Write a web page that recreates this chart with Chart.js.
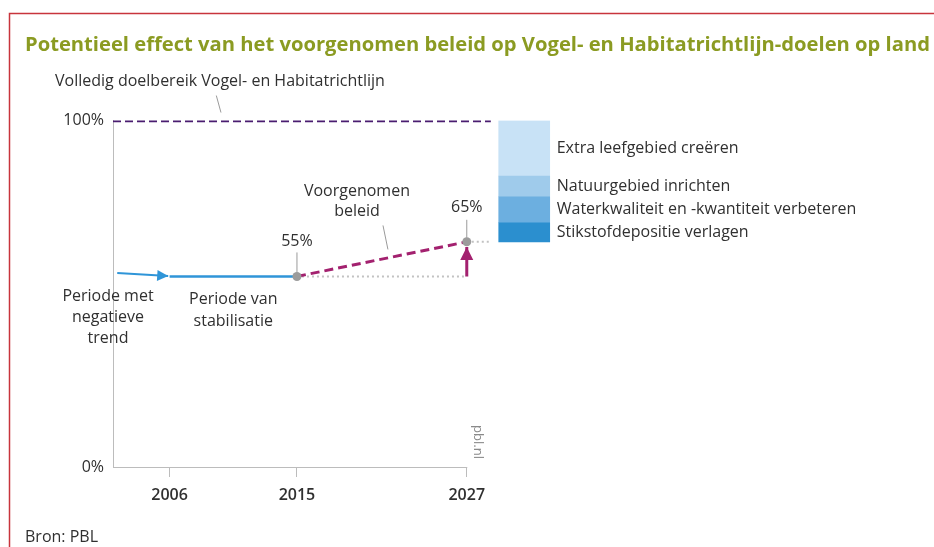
<!DOCTYPE html>
<html><head><meta charset="utf-8">
<script src="https://cdn.jsdelivr.net/npm/chart.js@4"></script>
<style>html,body{margin:0;padding:0;background:#fff;}canvas{display:block;}</style>
</head><body>
<div style="position:relative;width:934px;height:547px"><canvas id="c" width="934" height="547"></canvas></div>
<script>
// ---- data ----
const titleText = 'Potentieel effect van het voorgenomen beleid op Vogel- en Habitatrichtlijn-doelen op land';
const sourceText = 'Bron: PBL';
const targetLabel = 'Volledig doelbereik Vogel- en Habitatrichtlijn';
const xTickYears = [2006, 2015, 2027];
const yTickValues = [0, 100];
const trendYears = [2002.3, 2005.9];
const trendValues = [56, 55.1];
const stabYears = [2006, 2015];
const stabValues = [55, 55];
const policyYears = [2015, 2027];
const policyValues = [55, 65];
const targetYears = [2002, 2028.7];
const targetValues = [100, 100];
const raiseValues = [55, 63.5];
const measureLabels = ['Stikstofdepositie verlagen', 'Waterkwaliteit en -kwantiteit verbeteren', 'Natuurgebied inrichten', 'Extra leefgebied creëren'];
const measureShares = [5.5, 7.5, 6, 16];

// ---- styles / layout ----
const X_MIN = 2002, X_MAX = 2059.7;
const BAR_X = 2031.06, BAR_W = 51;
const measureColors = ['#2b8fcf', '#6cafe0', '#9fcbeb', '#c8e2f6'];
const FONT = '"Open Sans", "Noto Sans", sans-serif';
const TXT = '#303030';
const BLUE = '#2f95d8', MAG = '#a3216f', PURP = '#4a1d70', DOTGRAY = '#c2c2c2';

const pts = (xs, ys) => xs.map((x, i) => ({x: x, y: ys[i]}));
const lineDs = (data, color, width, extra) => Object.assign({type: 'line', data: data, borderColor: color, borderWidth: width, pointRadius: 0, fill: false, tension: 0, borderCapStyle: 'butt', order: 1}, extra || {});

let cum = policyValues[1];
const barDatasets = measureShares.map((v, i) => {
  const lo = cum; cum += v;
  return {type: 'bar', label: measureLabels[i], data: [{x: BAR_X, y: [lo, cum]}], backgroundColor: measureColors[i], borderWidth: 0, barThickness: BAR_W, grouped: false, order: 5};
});

const datasets = [
  {type: 'line', data: [{x: policyYears[0], y: policyValues[0]}, {x: policyYears[1], y: policyValues[1]}], showLine: false, pointRadius: 4.5, pointBackgroundColor: '#9c9c9c', pointBorderWidth: 0, order: 0},
  lineDs(pts(trendYears, trendValues), BLUE, 2, {arrowHead: {len: 11, half: 5.5}}),
  lineDs(pts(stabYears, stabValues), BLUE, 2.5),
  lineDs(pts(policyYears, policyValues), MAG, 3, {borderDash: [9, 5]}),
  lineDs(pts(targetYears, targetValues), PURP, 3.5, {borderDash: [8, 4]}),
  lineDs([{x: policyYears[0], y: policyValues[0]}, {x: policyYears[1], y: policyValues[0]}], DOTGRAY, 2, {borderDash: [2, 3], order: 3}),
  lineDs([{x: policyYears[1], y: policyValues[1]}, {x: targetYears[1], y: policyValues[1]}], DOTGRAY, 2, {borderDash: [2, 3], order: 3}),
  lineDs([{x: policyYears[1], y: raiseValues[0]}, {x: policyYears[1], y: raiseValues[1]}], MAG, 3, {arrowHead: {len: 13, half: 6.5}})
].concat(barDatasets);

function txt(ctx, s, x, y, align, font, color) {
  ctx.font = font; ctx.fillStyle = color || TXT; ctx.textAlign = align || 'left'; ctx.textBaseline = 'middle';
  ctx.fillText(s, x, y);
}
function seg(ctx, x1, y1, x2, y2, color, w) {
  ctx.beginPath(); ctx.strokeStyle = color; ctx.lineWidth = w || 1; ctx.setLineDash([]);
  ctx.moveTo(x1, y1); ctx.lineTo(x2, y2); ctx.stroke();
}

const annot = {
  id: 'annot',
  beforeDraw(chart) {
    const c = chart.ctx; c.save();
    c.strokeStyle = '#c8343c'; c.lineWidth = 1.5;
    c.beginPath(); c.moveTo(9.5, 547); c.lineTo(9.5, 13.5); c.lineTo(934, 13.5); c.stroke();
    c.restore();
  },
  beforeDatasetsDraw(chart) {
    const c = chart.ctx, xs = chart.scales.x, ys = chart.scales.y; c.save();
    const y0 = Math.round(ys.getPixelForValue(0)) + 0.5;
    seg(c, xs.getPixelForValue(X_MIN), y0, xs.getPixelForValue(xTickYears[2]) + 0.5, y0, '#bcbcbc', 1);
    c.restore();
  },
  afterDatasetsDraw(chart) {
    const c = chart.ctx, xs = chart.scales.x, ys = chart.scales.y; c.save();
    chart.data.datasets.forEach((ds, i) => {
      if (!ds.arrowHead) return;
      const d = chart.getDatasetMeta(i).data, n = d.length;
      const a = d[n - 2], b = d[n - 1];
      const ang = Math.atan2(b.y - a.y, b.x - a.x), L = ds.arrowHead.len, H = ds.arrowHead.half;
      const bx = b.x - Math.cos(ang) * L, by = b.y - Math.sin(ang) * L;
      c.beginPath(); c.fillStyle = ds.borderColor;
      c.moveTo(b.x, b.y);
      c.lineTo(bx - Math.sin(ang) * H, by + Math.cos(ang) * H);
      c.lineTo(bx + Math.sin(ang) * H, by - Math.cos(ang) * H);
      c.closePath(); c.fill();
    });
    const f = '16px ' + FONT;
    const lg = '#9a9a9a';
    const yTop = ys.getPixelForValue(100);
    txt(c, targetLabel, xs.left - 58, yTop - 39, 'left', f);
    seg(c, xs.getPixelForValue(2009.3), yTop - 25, xs.getPixelForValue(2009.63), yTop - 8, lg, 1);
    const p55x = xs.getPixelForValue(policyYears[0]), p55y = ys.getPixelForValue(policyValues[0]);
    const p65x = xs.getPixelForValue(policyYears[1]), p65y = ys.getPixelForValue(policyValues[1]);
    seg(c, p55x, p55y - 24, p55x, p55y - 4, lg, 1);
    seg(c, p65x, p65y - 22, p65x, p65y - 4, lg, 1);
    txt(c, policyValues[0] + '%', p55x, p55y - 35, 'center', f);
    txt(c, policyValues[1] + '%', p65x, p65y - 34, 'center', f);
    const vx = xs.getPixelForValue(2019.24);
    txt(c, 'Voorgenomen', vx, p55y - 85, 'center', f);
    txt(c, 'beleid', vx, p55y - 65, 'center', f);
    seg(c, xs.getPixelForValue(2021.08), p55y - 51, xs.getPixelForValue(2021.43), p55y - 27, lg, 1);
    const px1 = xs.getPixelForValue(X_MIN) - 5;
    txt(c, 'Periode met', px1, p55y + 20, 'center', f);
    txt(c, 'negatieve', px1, p55y + 41, 'center', f);
    txt(c, 'trend', px1, p55y + 62, 'center', f);
    const px2 = xs.getPixelForValue(2010.5);
    txt(c, 'Periode van', px2, p55y + 23, 'center', f);
    txt(c, 'stabilisatie', px2, p55y + 45, 'center', f);
    barDatasets.forEach((ds) => {
      const idx = chart.data.datasets.indexOf(ds);
      const el = chart.getDatasetMeta(idx).data[0];
      txt(c, ds.label, el.x + BAR_W / 2 + 7, (el.y + el.base) / 2, 'left', f);
    });
    c.translate(xs.getPixelForValue(xTickYears[2]) + 11, ys.getPixelForValue(0) - 25);
    c.rotate(Math.PI / 2);
    txt(c, 'pbl.nl', 0, 0, 'center', '13px ' + FONT, '#8a8a8a');
    c.restore();
  }
};

new Chart(document.getElementById('c'), {
  type: 'line',
  data: {datasets: datasets},
  plugins: [annot],
  options: {
    responsive: false, animation: false, events: [],
    layout: {padding: {left: 25, right: 4, top: 0, bottom: 0}},
    plugins: {
      legend: {display: false}, tooltip: {enabled: false},
      title: {display: true, text: titleText, align: 'start', color: '#8b9b22', font: {family: FONT, size: 20.2, weight: 'bold'}, padding: {top: 33, bottom: 63.3}},
      subtitle: {display: true, text: sourceText, position: 'bottom', align: 'start', color: TXT, font: {family: FONT, size: 16}, padding: {top: 20.8, bottom: 0}}
    },
    scales: {
      x: {
        type: 'linear', min: X_MIN, max: X_MAX, offset: false,
        afterBuildTicks: s => { s.ticks = xTickYears.map(v => ({value: v})); },
        afterFit: s => { s.height = 40; },
        border: {display: false},
        grid: {display: true, drawOnChartArea: false, drawTicks: true, tickLength: 10, color: '#bcbcbc', offset: false},
        ticks: {autoSkip: false, maxRotation: 0, padding: 9, color: TXT, font: {family: FONT, size: 16, weight: '600'}, callback: v => String(v)}
      },
      y: {
        min: 0, max: 100,
        afterBuildTicks: s => { s.ticks = yTickValues.map(v => ({value: v})); },
        afterFit: s => { s.width = 88; },
        border: {display: true, color: '#bcbcbc', width: 1},
        grid: {display: false, drawTicks: false},
        ticks: {padding: 9, color: TXT, font: {family: FONT, size: 16}, callback: v => v + '%'}
      }
    }
  }
});
</script>
</body></html>
